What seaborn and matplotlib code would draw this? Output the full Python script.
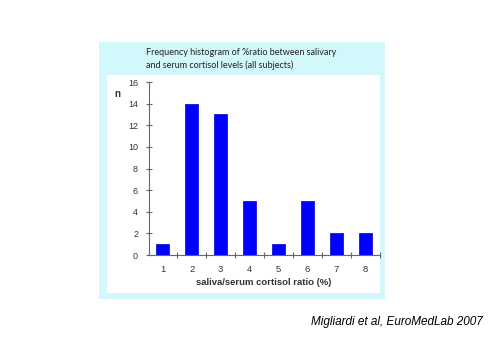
import matplotlib
matplotlib.use("Agg")
import matplotlib.pyplot as plt
import seaborn as sns
import pandas as pd
from matplotlib.patches import Rectangle
from matplotlib.ticker import FixedLocator

categories = ["1", "2", "3", "4", "5", "6", "7", "8"]
counts = [1, 14, 13, 5, 1, 5, 2, 2]
y_ticks = [0, 2, 4, 6, 8, 10, 12, 14, 16]

sns.set_style("white")
plt.rcParams['font.family'] = ['Liberation Sans', 'DejaVu Sans']

df = pd.DataFrame({"ratio": categories, "n": counts})

fig = plt.figure(figsize=(5.0, 3.53), dpi=100)
fig.patch.set_facecolor("white")
fig.patches.append(Rectangle((0.198, 0.153), 0.572, 0.728, transform=fig.transFigure,
                             facecolor="#d2f8fb", edgecolor="none", zorder=-20))
fig.patches.append(Rectangle((0.214, 0.170), 0.546, 0.6176, transform=fig.transFigure,
                             facecolor="white", edgecolor="none", zorder=-10))

ax = fig.add_axes([0.297, 0.2776, 0.462, 0.49])
ax.set_facecolor("none")
sns.barplot(data=df, x="ratio", y="n", color="#0000ff", width=0.45,
            saturation=1, ax=ax, edgecolor="#0000cc", linewidth=0.5)

ax.set_xlim(-0.5, 7.5)
ax.set_ylim(0, 16)
ax.set_yticks(y_ticks)
ax.set_yticklabels([str(v) for v in y_ticks])
ax.xaxis.set_minor_locator(FixedLocator([i + 0.5 for i in range(8)]))
ax.tick_params(axis="x", which="major", length=0, pad=7, labelsize=6.8, colors="#333333")
ax.tick_params(axis="x", which="minor", length=5, width=0.8, direction="inout", color="#666666", bottom=True)
ax.tick_params(axis="y", which="major", length=5, width=0.8, direction="inout", color="#666666",
               labelsize=6.5, labelcolor="#333333", left=True, pad=5)
for s in ["top", "right"]:
    ax.spines[s].set_visible(False)
for s in ["left", "bottom"]:
    ax.spines[s].set_color("#666666")
    ax.spines[s].set_linewidth(0.8)

ax.set_xlabel("saliva/serum cortisol ratio (%)", fontsize=6.8, fontweight="bold", color="#333333", labelpad=3)
ax.set_ylabel("")

fig.text(0.234, 0.733, "n", fontsize=7, fontweight="bold", color="#333333", ha="center", va="center")
fig.text(0.292, 0.834, "Frequency histogram of %ratio between salivary\nand serum cortisol levels (all subjects)",
         fontsize=6.5, color="#222222", ha="left", va="center", linespacing=1.45,
         family=["Lato", "DejaVu Sans"])
fig.text(0.966, 0.088, "Migliardi et al, EuroMedLab 2007", fontsize=8.5, style="italic",
         color="black", ha="right", va="center")

fig.savefig("out.png", dpi=100)
